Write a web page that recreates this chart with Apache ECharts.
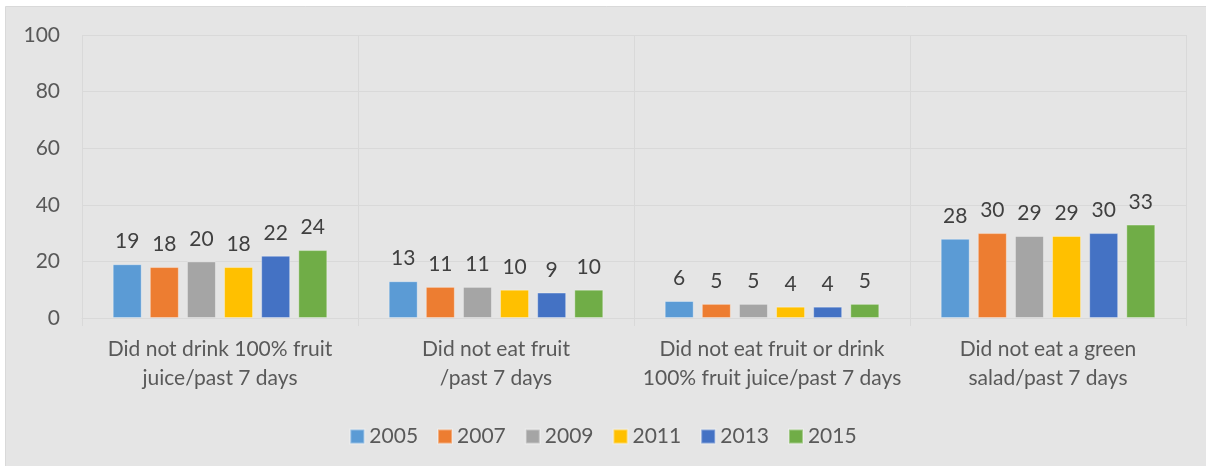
<!DOCTYPE html>
<html>
<head>
<meta charset="utf-8">
<script src="https://cdn.jsdelivr.net/npm/echarts@6/dist/echarts.min.js"></script>
<style>
  html, body { margin: 0; padding: 0; background: #ffffff; }
  #chart_1 { width: 1206px; height: 466px; }
</style>
</head>
<body>
<div id="chart_1"></div>
<script>
var dom = document.getElementById("chart_1");
var myChart = echarts.init(dom);

// categories
var categories = [
  'Did not drink 100% fruit\njuice/past 7 days',
  'Did not eat fruit\n/past 7 days',
  'Did not eat fruit or drink\n100% fruit juice/past 7 days',
  'Did not eat a green\nsalad/past 7 days'
];

// one array per survey year
var years = ['2005', '2007', '2009', '2011', '2013', '2015'];
var y2005 = [19, 13, 6, 28];
var y2007 = [18, 11, 5, 30];
var y2009 = [20, 11, 5, 29];
var y2011 = [18, 10, 4, 29];
var y2013 = [22, 9, 4, 30];
var y2015 = [24, 10, 5, 33];
var values = [y2005, y2007, y2009, y2011, y2013, y2015];

var colors = ['#5b9bd5', '#ed7d31', '#a5a5a5', '#ffc000', '#4472c4', '#70ad47'];
var fontFam = 'Lato, "Open Sans", sans-serif';

var series = [];
for (var i = 0; i < years.length; i++) {
  series.push({
    name: years[i],
    type: 'bar',
    data: values[i],
    barWidth: 29,
    barGap: '28%',
    itemStyle: {
      color: colors[i],
      borderColor: 'rgba(255,255,255,0.35)',
      borderWidth: 1
    },
    label: {
      show: true,
      position: 'top',
      distance: 12,
      color: '#404040',
      fontSize: 21,
      fontFamily: fontFam
    }
  });
}

option = {
  backgroundColor: '#ffffff',
  color: colors,
  animation: false,
  graphic: [{
    type: 'rect',
    z: -10,
    shape: { x: 5.5, y: 6.5, width: 1210, height: 470 },
    style: { fill: '#e5e5e5', stroke: '#d9d9d9', lineWidth: 1 }
  }],
  grid: {
    left: 82,
    right: 20,
    top: 35,
    bottom: 148
  },
  legend: {
    data: years,
    top: 421,
    left: 'center',
    icon: 'rect',
    itemWidth: 14,
    itemHeight: 14,
    itemGap: 19,
    textStyle: {
      color: '#595959',
      fontSize: 21,
      fontFamily: fontFam
    }
  },
  xAxis: {
    type: 'category',
    data: categories,
    axisLine: { lineStyle: { color: '#d9d9d9' } },
    axisTick: { show: true, length: 8, lineStyle: { color: '#d9d9d9' } },
    splitLine: { show: true, interval: 0, lineStyle: { color: '#d9d9d9' } },
    axisLabel: {
      interval: 0,
      color: '#595959',
      fontSize: 21,
      lineHeight: 29,
      margin: 17,
      fontFamily: fontFam
    }
  },
  yAxis: {
    type: 'value',
    min: 0,
    max: 100,
    interval: 20,
    axisLine: { show: false },
    axisTick: { show: false },
    splitLine: { lineStyle: { color: '#d9d9d9' } },
    axisLabel: {
      color: '#595959',
      fontSize: 21,
      margin: 22,
      fontFamily: fontFam
    }
  },
  series: series
};

if (option && typeof option === "object") {
  myChart.setOption(option, true);
}
</script>
</body>
</html>
